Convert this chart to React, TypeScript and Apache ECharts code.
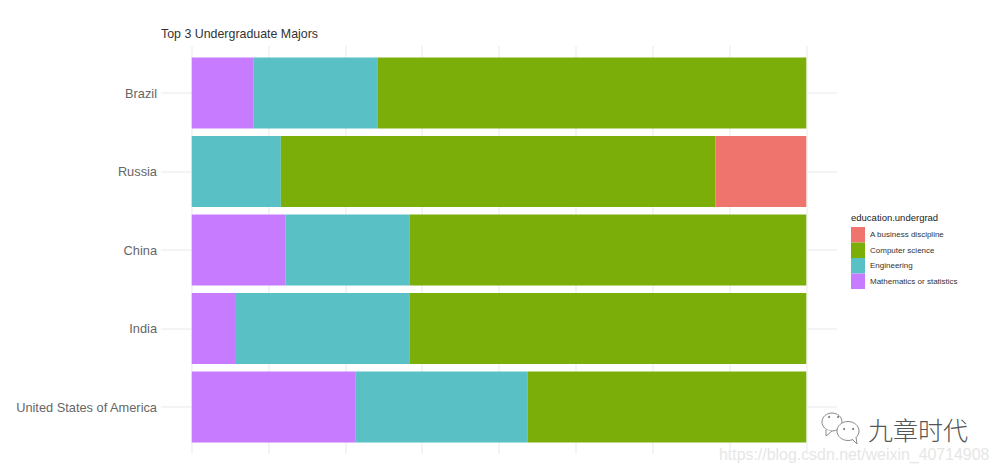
import React, { useEffect, useRef } from "react";
import * as echarts from "echarts";

const countries = ["United States of America", "India", "China", "Russia", "Brazil"];
const math = [0.267, 0.072, 0.153, null, 0.101];
const engineering = [0.28, 0.283, 0.202, 0.145, 0.202];
const computerScience = [0.453, 0.645, 0.645, 0.707, 0.697];
const business = [null, null, null, 0.148, null];
const xGridValues = [0, 0.125, 0.25, 0.375, 0.5, 0.625, 0.75, 0.875, 1];
const yGridValues = [0, 1, 2, 3, 4];
const legendOrder = ["A business discipline", "Computer science", "Engineering", "Mathematics or statistics"];

const FONT = "'Liberation Sans', Arial, sans-serif";

export default function App() {
  const ref = useRef<HTMLDivElement>(null);
  useEffect(() => {
    const chart = echarts.init(ref.current!, null, { renderer: "svg" });
    const barSeries = (name: string, data: (number | null)[], color: string) => ({
      name,
      type: "bar",
      stack: "total",
      xAxisIndex: 0,
      yAxisIndex: 0,
      barWidth: 71,
      data,
      itemStyle: { color },
    });
    const bubble = { fill: "#fff", stroke: "#8a8a8a", lineWidth: 1 };
    const eye = { fill: "#777" };
    chart.setOption({
      animation: false,
      backgroundColor: "#fff",
      title: [
        {
          text: "Top 3 Undergraduate Majors",
          left: 156,
          top: 23,
          textStyle: { fontFamily: FONT, fontSize: 12.4, fontWeight: "normal", color: "#333" },
        },
        {
          text: "education.undergrad",
          left: 846,
          top: 207,
          textStyle: { fontFamily: FONT, fontSize: 9.5, fontWeight: "normal", color: "#222" },
        },
      ],
      legend: {
        data: legendOrder,
        orient: "vertical",
        left: 846,
        top: 222,
        itemWidth: 14,
        itemHeight: 15.5,
        itemGap: 0,
        icon: "rect",
        selectedMode: false,
        textStyle: { fontFamily: FONT, fontSize: 8, color: "#333" },
      },
      grid: [
        { left: 161, width: 676, top: 53.75, height: 392.5 },
        { left: 161, width: 676, top: 46, height: 408 },
      ],
      xAxis: [
        { type: "value", gridIndex: 0, min: -0.05, max: 1.05, show: false },
        {
          type: "value",
          gridIndex: 1,
          min: -0.05,
          max: 1.05,
          axisLine: { show: false },
          axisLabel: { show: false },
          axisTick: { show: false, customValues: xGridValues },
          splitLine: { show: true, lineStyle: { color: "#f0f0f0", width: 1.5 } },
        },
      ],
      yAxis: [
        {
          type: "category",
          gridIndex: 0,
          data: countries,
          axisLine: { show: false },
          axisTick: { show: false },
          axisLabel: { margin: 4, fontFamily: FONT, fontSize: 12.8, color: "#666" },
        },
        {
          type: "value",
          gridIndex: 1,
          min: -0.6,
          max: 4.6,
          axisLine: { show: false },
          axisLabel: { show: false },
          axisTick: { show: false, customValues: yGridValues },
          splitLine: { show: true, lineStyle: { color: "#f0f0f0", width: 1.5 } },
        },
      ],
      series: [
        barSeries("Mathematics or statistics", math, "#C77CFF"),
        barSeries("Engineering", engineering, "#59C1C6"),
        barSeries("Computer science", computerScience, "#7CAE0A"),
        barSeries("A business discipline", business, "#F0746E"),
      ],
      graphic: [
        { type: "ellipse", shape: { cx: 832, cy: 422, rx: 10, ry: 9 }, style: bubble },
        { type: "polyline", shape: { points: [[826, 430], [826, 436], [832, 431]] }, style: { fill: "#fff", stroke: "#8a8a8a", lineWidth: 1 } },
        { type: "ellipse", shape: { cx: 848, cy: 431, rx: 11, ry: 9.5 }, style: bubble },
        { type: "polyline", shape: { points: [[852, 439], [857, 444], [856, 437]] }, style: { fill: "#fff", stroke: "#8a8a8a", lineWidth: 1 } },
        { type: "circle", shape: { cx: 829, cy: 417, r: 1 }, style: eye },
        { type: "circle", shape: { cx: 838, cy: 417, r: 1 }, style: eye },
        { type: "circle", shape: { cx: 844, cy: 429, r: 1 }, style: eye },
        { type: "circle", shape: { cx: 853, cy: 429, r: 1 }, style: eye },
        {
          type: "text",
          x: 868,
          y: 416,
          style: { text: "九章时代", font: "200 25px 'Noto Sans CJK SC'", fill: "#555" },
        },
        {
          type: "text",
          x: 719,
          y: 446,
          style: { text: "https://blog.csdn.net/weixin_40714908", font: `15.9px ${FONT}`, fill: "#e6e6e6" },
        },
      ],
    });
    return () => chart.dispose();
  }, []);
  return <div ref={ref} style={{ position: "fixed", left: 0, top: 0, width: 1000, height: 473 }} />;
}
